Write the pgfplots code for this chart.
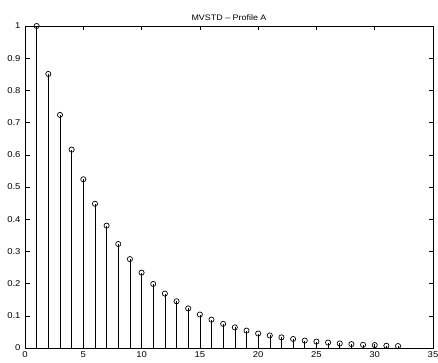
\documentclass[border=0pt]{standalone}
\usepackage{pgfplots}
\pgfplotsset{compat=1.18}
\usepackage{fontspec}
\setmainfont{Liberation Sans}
\begin{document}
\begin{tikzpicture}
\begin{axis}[
  scale only axis,
  width=408bp, height=322bp,
  xmin=0, xmax=35, ymin=0, ymax=1,
  xtick={0,5,...,35},
  ytick={0,0.1,...,1.0},
  tick align=inside,
  major tick length=4.5bp,
  tick style={black, line width=0.5pt},
  axis line style={black, line width=0.6pt},
  ticklabel style={font=\fontsize{8.5}{9}\selectfont, xscale=1.12},
  yticklabel style={xshift=-0.5bp},
  /pgf/number format/assume math mode=true,
  title={MVSTD -- Profile A},
  title style={font=\fontsize{8}{9}\selectfont, xscale=1.12, yshift=-4bp},
  every axis plot/.append style={line width=0.6pt},
]
\addplot[ycomb, black, mark=o, mark size=2.6bp, mark options={line width=0.7pt}] coordinates {
(1,1.000) (2,0.851) (3,0.724) (4,0.616) (5,0.524) (6,0.448) (7,0.380) (8,0.323)
(9,0.276) (10,0.234) (11,0.199) (12,0.169) (13,0.145) (14,0.123) (15,0.104)
(16,0.088) (17,0.075) (18,0.064) (19,0.054) (20,0.045) (21,0.039) (22,0.033)
(23,0.028) (24,0.023) (25,0.020) (26,0.017) (27,0.014) (28,0.012) (29,0.010)
(30,0.009) (31,0.007) (32,0.006)
};
\end{axis}
\pgfresetboundingbox
\path[use as bounding box] ([xshift=-25bp,yshift=-15bp]current axis.south west) rectangle ([xshift=5bp,yshift=26bp]current axis.north east);
\end{tikzpicture}
\end{document}
